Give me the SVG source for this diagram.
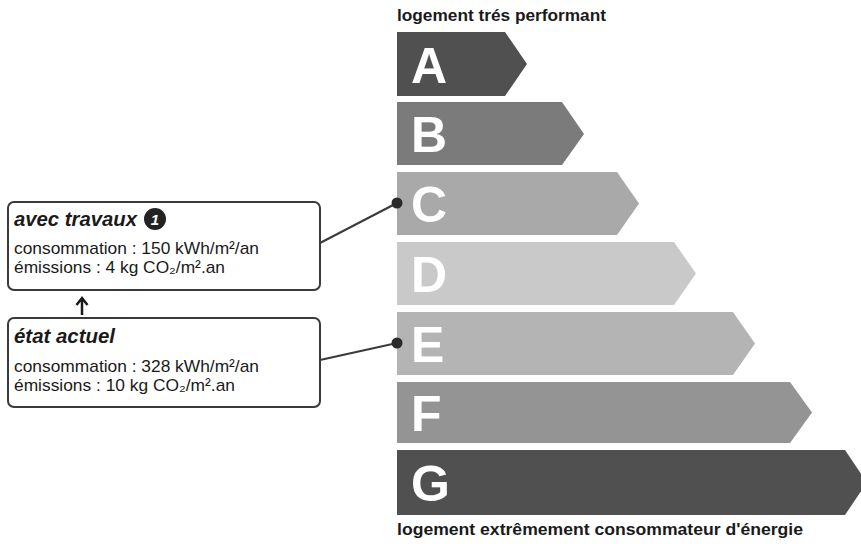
<svg xmlns="http://www.w3.org/2000/svg" width="861" height="544" viewBox="0 0 861 544">
<style>
.lbl{font-family:"Liberation Sans",Arial,sans-serif;font-weight:bold;font-size:16px;fill:#1a1a1a}
.let{font-family:"Liberation Sans",Arial,sans-serif;font-weight:bold;font-size:50px;fill:#ffffff}
.box{fill:#ffffff;stroke:#3a3a3a;stroke-width:2}
.head{font-family:"Liberation Sans",Arial,sans-serif;font-weight:bold;font-style:italic;font-size:21px;fill:#1a1a1a}
.txt{font-family:"Liberation Sans",Arial,sans-serif;font-size:17px;fill:#1a1a1a}
.conn{stroke:#3a3a3a;stroke-width:2;fill:none}
.dot{fill:#2a2a2a}
</style>
<text class="lbl" x="397" y="21" textLength="209" lengthAdjust="spacingAndGlyphs">logement trés performant</text>
<g id="bar-A"><path d="M397 32 H505 L527 64 L505 96 H397 Z" fill="#505050"/><text class="let" x="411" y="83">A</text></g>
<g id="bar-B"><path d="M397 102 H562 L584 134 L562 165 H397 Z" fill="#7b7b7b"/><text class="let" x="411" y="152">B</text></g>
<g id="bar-C"><path d="M397 172 H617 L639 203.5 L617 235 H397 Z" fill="#a9a9a9"/><text class="let" x="411" y="222">C</text></g>
<g id="bar-D"><path d="M397 242 H674 L696 273.5 L674 305 H397 Z" fill="#c9c9c9"/><text class="let" x="411" y="292">D</text></g>
<g id="bar-E"><path d="M397 312 H733 L755 343.5 L733 375 H397 Z" fill="#b4b4b4"/><text class="let" x="411" y="362">E</text></g>
<g id="bar-F"><path d="M397 382 H790 L812 412.5 L790 443 H397 Z" fill="#949494"/><text class="let" x="411" y="431">F</text></g>
<g id="bar-G"><path d="M397 450 H845 L867 482.5 L845 515 H397 Z" fill="#505050"/><text class="let" x="411" y="501">G</text></g>
<text class="lbl" x="397" y="535" textLength="406" lengthAdjust="spacingAndGlyphs">logement extrêmement consommateur d'énergie</text>
<g id="connectors">
<line class="conn" x1="320" y1="243" x2="397" y2="203"/>
<circle class="dot" cx="397" cy="203" r="5.5"/>
<line class="conn" x1="320" y1="360" x2="397" y2="343"/>
<circle class="dot" cx="397" cy="343" r="5.5"/>
<path d="M82 315 V299 M76.5 305 L82 298 L87.5 305" fill="none" stroke="#1a1a1a" stroke-width="2.5"/>
</g>
<g id="avec-travaux">
<rect class="box" x="8" y="202" width="312" height="88" rx="6"/>
<text class="head" x="14" y="226" textLength="123" lengthAdjust="spacingAndGlyphs">avec travaux</text>
<circle cx="155" cy="219" r="11" fill="#222"/>
<text x="155" y="225" text-anchor="middle" font-family="Liberation Sans,Arial,sans-serif" font-weight="bold" font-style="italic" font-size="15" fill="#fff">1</text>
<text class="txt" x="14" y="254" textLength="245" lengthAdjust="spacingAndGlyphs">consommation : 150 kWh/m²/an</text>
<text class="txt" x="14" y="273" textLength="211" lengthAdjust="spacingAndGlyphs">émissions : 4 kg CO₂/m².an</text>
</g>
<g id="etat-actuel">
<rect class="box" x="8" y="318" width="312" height="89" rx="6"/>
<text class="head" x="14" y="343" textLength="101" lengthAdjust="spacingAndGlyphs">état actuel</text>
<text class="txt" x="14" y="372" textLength="245" lengthAdjust="spacingAndGlyphs">consommation : 328 kWh/m²/an</text>
<text class="txt" x="14" y="391" textLength="221" lengthAdjust="spacingAndGlyphs">émissions : 10 kg CO₂/m².an</text>
</g>
</svg>
